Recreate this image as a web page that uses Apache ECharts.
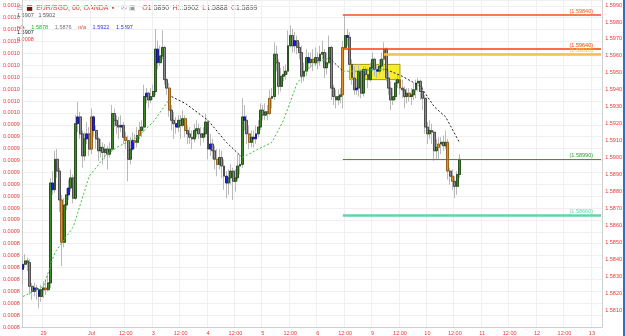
<!DOCTYPE html>
<html>
<head>
<meta charset="utf-8">
<script src="https://cdn.jsdelivr.net/npm/echarts/dist/echarts.min.js"></script>
<style>
  html, body { margin: 0; padding: 0; background: #fff; }
  #chart { width: 625px; height: 336px; }
</style>
</head>
<body>
<div id="chart"></div>
<script>
// hourly EUR/SGD candles, one per category slot (future slots stay empty)
const slotCount = 254;
const xLabelText = ['29', 'Jul', '12:00', '3', '12:00', '4', '12:00', '5', '12:00', '6', '12:00', '9', '12:00', '10', '12:00', '11', '12:00', '12', '12:00', '13'];
const xLabelIdx = [9, 30, 45, 57, 69, 81, 93, 105, 117, 129, 141, 153, 165, 177, 189, 201, 213, 225, 237, 249];

const opens = [
  1.5834, 1.5837, 1.5839, 1.5838, 1.5824, 1.5821, 1.5823, 1.5822, 1.5818, 1.5822,
  1.5823, 1.5822, 1.5826, 1.5885, 1.5881, 1.5899, 1.5892, 1.5875, 1.5850, 1.5872,
  1.5878, 1.5882, 1.5888, 1.5876, 1.5920, 1.5924, 1.5914, 1.5901, 1.5911, 1.5914,
  1.5905, 1.5924, 1.5916, 1.5911, 1.5904, 1.5906, 1.5903, 1.5905, 1.5902, 1.5905,
  1.5926, 1.5922, 1.5919, 1.5918, 1.5919, 1.5912, 1.5910, 1.5899, 1.5905, 1.5910,
  1.5909, 1.5913, 1.5916, 1.5918, 1.5936, 1.5938, 1.5934, 1.5936, 1.5939, 1.5964,
  1.5956, 1.5960, 1.5965, 1.5946, 1.5941, 1.5928, 1.5922, 1.5920, 1.5918, 1.5922,
  1.5919, 1.5923, 1.5916, 1.5914, 1.5912, 1.5911, 1.5916, 1.5917, 1.5914, 1.5912,
  1.5914, 1.5921, 1.5905, 1.5908, 1.5904, 1.5899, 1.5896, 1.5900, 1.5895, 1.5889,
  1.5885, 1.5888, 1.5892, 1.5886, 1.5888, 1.5895, 1.5896, 1.5924, 1.5922, 1.5914,
  1.5909, 1.5912, 1.5911, 1.5914, 1.5918, 1.5928, 1.5925, 1.5927, 1.5926, 1.5935,
  1.5936, 1.5961, 1.5956, 1.5942, 1.5948, 1.5949, 1.5951, 1.5966, 1.5972, 1.5966,
  1.5969, 1.5965, 1.5962, 1.5948, 1.5951, 1.5959, 1.5956, 1.5958, 1.5956, 1.5959,
  1.5957, 1.5961, 1.5962, 1.5953, 1.5956, 1.5965, 1.5941, 1.5936, 1.5934, 1.5936,
  1.5937, 1.5965, 1.5972, 1.5971, 1.5955, 1.5947, 1.5940, 1.5941, 1.5951, 1.5938,
  1.5952, 1.5949, 1.5946, 1.5953, 1.5958, 1.5952, 1.5951, 1.5954, 1.5958, 1.5964,
  1.5947, 1.5941, 1.5934, 1.5936, 1.5944, 1.5946, 1.5941, 1.5940, 1.5936, 1.5938,
  1.5936, 1.5937, 1.5940, 1.5944, 1.5945, 1.5939, 1.5935, 1.5918, 1.5914, 1.5916,
  1.5915, 1.5904, 1.5906, 1.5908, 1.5909, 1.5907, 1.5909, 1.5892, 1.5889, 1.5886,
  1.5883, 1.5890
];
const closes = [
  1.5837, 1.5839, 1.5838, 1.5824, 1.5821, 1.5823, 1.5822, 1.5818, 1.5822, 1.5823,
  1.5822, 1.5826, 1.5885, 1.5881, 1.5899, 1.5892, 1.5875, 1.5850, 1.5872, 1.5878,
  1.5882, 1.5888, 1.5876, 1.5920, 1.5924, 1.5914, 1.5901, 1.5911, 1.5914, 1.5905,
  1.5924, 1.5916, 1.5911, 1.5904, 1.5906, 1.5903, 1.5905, 1.5902, 1.5905, 1.5926,
  1.5922, 1.5919, 1.5918, 1.5919, 1.5912, 1.5910, 1.5899, 1.5905, 1.5910, 1.5909,
  1.5913, 1.5916, 1.5918, 1.5936, 1.5938, 1.5934, 1.5936, 1.5939, 1.5964, 1.5956,
  1.5960, 1.5965, 1.5946, 1.5941, 1.5928, 1.5922, 1.5920, 1.5918, 1.5922, 1.5919,
  1.5923, 1.5916, 1.5914, 1.5912, 1.5911, 1.5916, 1.5917, 1.5914, 1.5912, 1.5914,
  1.5921, 1.5905, 1.5908, 1.5904, 1.5899, 1.5896, 1.5900, 1.5895, 1.5889, 1.5885,
  1.5888, 1.5892, 1.5886, 1.5888, 1.5895, 1.5896, 1.5924, 1.5922, 1.5914, 1.5909,
  1.5912, 1.5911, 1.5914, 1.5918, 1.5928, 1.5925, 1.5927, 1.5926, 1.5935, 1.5936,
  1.5961, 1.5956, 1.5942, 1.5948, 1.5949, 1.5951, 1.5966, 1.5972, 1.5966, 1.5969,
  1.5965, 1.5962, 1.5948, 1.5951, 1.5959, 1.5956, 1.5958, 1.5956, 1.5959, 1.5957,
  1.5961, 1.5962, 1.5953, 1.5956, 1.5965, 1.5941, 1.5936, 1.5934, 1.5936, 1.5937,
  1.5965, 1.5972, 1.5971, 1.5955, 1.5947, 1.5940, 1.5941, 1.5951, 1.5938, 1.5952,
  1.5949, 1.5946, 1.5953, 1.5958, 1.5952, 1.5951, 1.5954, 1.5958, 1.5964, 1.5947,
  1.5941, 1.5934, 1.5936, 1.5944, 1.5946, 1.5941, 1.5940, 1.5936, 1.5938, 1.5936,
  1.5937, 1.5940, 1.5944, 1.5945, 1.5939, 1.5935, 1.5918, 1.5914, 1.5916, 1.5915,
  1.5904, 1.5906, 1.5908, 1.5909, 1.5907, 1.5909, 1.5892, 1.5889, 1.5886, 1.5883,
  1.5890, 1.5899
];
const highs = [
  1.5842, 1.5843, 1.5841, 1.5840, 1.5826, 1.5826, 1.5825, 1.5823, 1.5825, 1.5827,
  1.5828, 1.5831, 1.5888, 1.5892, 1.5904, 1.5905, 1.5894, 1.5878, 1.5876, 1.5882,
  1.5887, 1.5893, 1.5890, 1.5925, 1.5933, 1.5927, 1.5916, 1.5915, 1.5921, 1.5918,
  1.5929, 1.5925, 1.5919, 1.5912, 1.5911, 1.5909, 1.5908, 1.5907, 1.5909, 1.5931,
  1.5929, 1.5925, 1.5924, 1.5925, 1.5921, 1.5915, 1.5913, 1.5912, 1.5915, 1.5914,
  1.5918, 1.5921, 1.5922, 1.5943, 1.5941, 1.5939, 1.5941, 1.5943, 1.5976, 1.5969,
  1.5966, 1.5975, 1.5966, 1.5947, 1.5944, 1.5931, 1.5927, 1.5924, 1.5925, 1.5925,
  1.5928, 1.5925, 1.5919, 1.5918, 1.5916, 1.5920, 1.5922, 1.5920, 1.5918, 1.5918,
  1.5926, 1.5922, 1.5914, 1.5911, 1.5907, 1.5905, 1.5905, 1.5904, 1.5899, 1.5892,
  1.5893, 1.5896, 1.5894, 1.5893, 1.5902, 1.5902, 1.5935, 1.5931, 1.5925, 1.5919,
  1.5916, 1.5916, 1.5919, 1.5922, 1.5932, 1.5931, 1.5932, 1.5931, 1.5940, 1.5941,
  1.5968, 1.5966, 1.5958, 1.5953, 1.5954, 1.5955, 1.5975, 1.5978, 1.5976, 1.5974,
  1.5972, 1.5968, 1.5966, 1.5956, 1.5964, 1.5962, 1.5962, 1.5964, 1.5965, 1.5962,
  1.5966, 1.5969, 1.5964, 1.5962, 1.5972, 1.5966, 1.5943, 1.5940, 1.5940, 1.5941,
  1.5969, 1.5984, 1.5976, 1.5974, 1.5958, 1.5954, 1.5946, 1.5955, 1.5952, 1.5954,
  1.5954, 1.5953, 1.5956, 1.5962, 1.5959, 1.5955, 1.5958, 1.5962, 1.5968, 1.5965,
  1.5951, 1.5945, 1.5941, 1.5947, 1.5949, 1.5947, 1.5946, 1.5942, 1.5941, 1.5941,
  1.5941, 1.5944, 1.5946, 1.5947, 1.5946, 1.5942, 1.5937, 1.5921, 1.5922, 1.5920,
  1.5916, 1.5911, 1.5912, 1.5912, 1.5913, 1.5916, 1.5911, 1.5894, 1.5893, 1.5889,
  1.5892, 1.5902
];
const lows = [
  1.5825, 1.5835, 1.5833, 1.5819, 1.5816, 1.5818, 1.5816, 1.5811, 1.5815, 1.5817,
  1.5819, 1.5821, 1.5823, 1.5878, 1.5879, 1.5888, 1.5868, 1.5836, 1.5847, 1.5869,
  1.5875, 1.5880, 1.5873, 1.5875, 1.5915, 1.5911, 1.5894, 1.5898, 1.5908, 1.5901,
  1.5902, 1.5912, 1.5905, 1.5898, 1.5900, 1.5896, 1.5899, 1.5893, 1.5900, 1.5904,
  1.5918, 1.5914, 1.5911, 1.5915, 1.5908, 1.5905, 1.5886, 1.5896, 1.5904, 1.5905,
  1.5906, 1.5911, 1.5912, 1.5915, 1.5932, 1.5929, 1.5932, 1.5934, 1.5937, 1.5952,
  1.5954, 1.5958, 1.5943, 1.5937, 1.5924, 1.5916, 1.5911, 1.5914, 1.5915, 1.5911,
  1.5918, 1.5912, 1.5908, 1.5908, 1.5905, 1.5909, 1.5912, 1.5911, 1.5907, 1.5909,
  1.5912, 1.5899, 1.5901, 1.5899, 1.5893, 1.5889, 1.5893, 1.5888, 1.5881, 1.5876,
  1.5878, 1.5884, 1.5875, 1.5880, 1.5886, 1.5890, 1.5894, 1.5916, 1.5908, 1.5905,
  1.5906, 1.5906, 1.5908, 1.5912, 1.5916, 1.5922, 1.5922, 1.5922, 1.5925, 1.5929,
  1.5934, 1.5951, 1.5937, 1.5939, 1.5945, 1.5946, 1.5949, 1.5965, 1.5962, 1.5962,
  1.5961, 1.5958, 1.5944, 1.5945, 1.5948, 1.5952, 1.5953, 1.5951, 1.5954, 1.5952,
  1.5954, 1.5958, 1.5947, 1.5949, 1.5955, 1.5934, 1.5931, 1.5929, 1.5931, 1.5932,
  1.5929, 1.5964, 1.5966, 1.5952, 1.5943, 1.5937, 1.5937, 1.5936, 1.5935, 1.5936,
  1.5946, 1.5941, 1.5945, 1.5951, 1.5948, 1.5947, 1.5949, 1.5951, 1.5951, 1.5945,
  1.5937, 1.5928, 1.5931, 1.5934, 1.5941, 1.5937, 1.5935, 1.5929, 1.5932, 1.5933,
  1.5931, 1.5934, 1.5935, 1.5939, 1.5934, 1.5928, 1.5914, 1.5908, 1.5911, 1.5908,
  1.5898, 1.5899, 1.5899, 1.5902, 1.5904, 1.5905, 1.5887, 1.5884, 1.5881, 1.5876,
  1.5878, 1.5888
];
// bars painted blue / orange by the chart's bar-colour rule
const blueBars = [0, 5, 7, 13, 20, 24, 28, 31, 43, 48, 54, 59, 67, 82, 89, 97, 101, 102, 119, 125, 142, 146, 155];
const orangeBars = [10, 17, 30, 45, 49, 51, 64, 71, 85, 99, 108, 127, 140, 158, 165, 169, 182, 186, 188];

// moving average, read at a few bars; colour flips at the turns
const maIdx = [0, 9, 14, 22, 29, 36, 41, 50, 57, 65, 71, 81, 89, 96, 103, 109, 114, 120, 126, 134, 140, 147, 154, 159, 166, 174, 180, 185, 191];
const maVal = [1.5818, 1.5824, 1.5844, 1.5859, 1.5889, 1.5901, 1.5906, 1.5912, 1.5921, 1.5936, 1.5932, 1.5922, 1.5909, 1.5900, 1.5905, 1.5909, 1.5922, 1.5944, 1.5954, 1.5959, 1.5951, 1.5951, 1.5952, 1.5952, 1.5948, 1.5942, 1.5930, 1.5924, 1.5909];
const maTurns = [65, 96, 134, 140, 159];

// drawn horizontal levels
const levelValues = [1.5984, 1.5964, 1.5961, 1.5899, 1.5866];
const levelStart = [140, 140, 158, 140, 140];
const levelText = ['(1.59840)', '(1.59640)', '(1.59610)', '(1.58990)', '(1.58660)'];

// highlighted zone
const zoneFrom = [143, 1.5955];
const zoneTo = [165, 1.5946];

// price tags on the right scale
const tagValues = [1.5942, 1.5912, 1.5907, 1.5899, 1.5895];
const tagText = ['1.5942', '1.5912', '1.5907', '1.5899', '26:53'];
const indicatorLast = 0.00079;

const chart = echarts.init(document.getElementById('chart'));

const labelAt = {};
xLabelIdx.forEach((k, j) => { labelAt[k] = xLabelText[j]; });
const slots = [];
for (let i = 0; i < slotCount; i++) slots.push('h' + i);

const wickData = opens.map((o, i) => [o, closes[i], lows[i], highs[i]]);
const bodyData = opens.map((o, i) => {
  const c = closes[i];
  let fill = c >= o ? '#3b8a27' : '#8c8c8c';
  let edge = c >= o ? '#173d0d' : '#3a3a3a';
  if (blueBars.includes(i)) { fill = '#1c1cf2'; edge = '#0c0c7a'; }
  if (orangeBars.includes(i)) { fill = '#e8911e'; edge = '#8a5206'; }
  return {
    value: [o, c, Math.min(o, c), Math.max(o, c)],
    itemStyle: { color: fill, color0: fill, borderColor: edge, borderColor0: edge }
  };
});

// split the MA into coloured runs
const maRuns = [];
let run = [];
maIdx.forEach((k, j) => {
  run.push([k, maVal[j]]);
  if (maTurns.includes(k)) { maRuns.push(run); run = [[k, maVal[j]]]; }
});
maRuns.push(run);
const maSeries = maRuns.map((pts, r) => ({
  type: 'line', xAxisIndex: 0, yAxisIndex: 1, data: pts, z: 5,
  symbol: 'none', silent: true,
  lineStyle: { width: 1, type: [2, 2], color: r % 2 === 0 ? '#3cc23c' : '#222' }
}));

const levelColors = ['#f4511e', '#ff3d00', '#f2c14e', '#2ca02c', '#5fd6a8'];
const levelWidths = [1.5, 1.5, 2.5, 1, 2.5];

const tiny = 'Liberation Sans, Arial, sans-serif';

chart.setOption({
  animation: false,
  textStyle: { fontFamily: tiny },
  grid: { left: 15, right: 17, top: 0, bottom: 8 },
  xAxis: {
    type: 'category', data: slots, boundaryGap: true,
    axisLine: { lineStyle: { color: '#cfcfcf' } },
    axisTick: { show: false },
    axisLabel: {
      interval: (i) => i in labelAt,
      formatter: (v, i) => labelAt[i] || '',
      color: '#e53935', fontSize: 5.5, margin: 3
    },
    splitLine: { show: true, interval: (i) => i in labelAt, lineStyle: { color: '#f0f0f0' } }
  },
  yAxis: [
    {
      type: 'value', position: 'left', min: 0.00078, max: 0.0010549, interval: 0.00001,
      axisLine: { show: true, lineStyle: { color: '#cfcfcf' } },
      axisTick: { show: false },
      axisLabel: { color: '#e53935', fontSize: 5.5, margin: 2, showMaxLabel: false, formatter: (v) => v.toFixed(4) },
      splitLine: { show: true, lineStyle: { color: '#efefef' } }
    },
    {
      type: 'value', position: 'right', min: 1.58, max: 1.5993, interval: 0.001,
      axisLine: { show: true, lineStyle: { color: '#cfcfcf' } },
      axisTick: { show: false },
      axisLabel: { color: '#e53935', fontSize: 5.5, margin: 3, showMaxLabel: false, showMinLabel: false, formatter: (v) => v.toFixed(4) },
      splitLine: { show: false }
    }
  ],
  series: [
    {
      type: 'line', yAxisIndex: 1, data: [], z: 1, silent: true,
      markArea: {
        silent: true,
        itemStyle: { color: '#f6ee2c', borderColor: '#a99a00', borderWidth: 1 },
        data: [[{ coord: zoneFrom }, { coord: zoneTo }]]
      }
    },
    {
      type: 'candlestick', yAxisIndex: 1, data: wickData, z: 3, barWidth: 2.4, silent: true,
      itemStyle: { color: 'transparent', color0: 'transparent', borderColor: '#b9b9b9', borderColor0: '#b9b9b9', borderWidth: 1 }
    },
    {
      type: 'candlestick', yAxisIndex: 1, data: bodyData, z: 4, barWidth: 2.4, silent: true,
      itemStyle: { borderWidth: 0.8 }
    },
    ...maSeries,
    {
      type: 'line', yAxisIndex: 1, data: [], z: 6, silent: true,
      markLine: {
        silent: true, symbol: 'none',
        data: levelValues.map((v, k) => [
          {
            coord: [levelStart[k], v],
            lineStyle: { color: levelColors[k], width: levelWidths[k], type: 'solid' },
            label: { show: true, position: 'insideEndTop', formatter: levelText[k], color: levelColors[k], fontSize: 5.5, distance: [8, 1] }
          },
          { coord: [slotCount - 1, v] }
        ])
      }
    },
    {
      type: 'line', yAxisIndex: 1, data: [], z: 7, silent: true,
      markLine: {
        silent: true, symbol: 'none',
        lineStyle: { opacity: 0 },
        data: tagValues.map((v, k) => ({
          yAxis: v,
          label: {
            show: true, position: 'end', distance: 2, formatter: tagText[k],
            color: '#fff', fontSize: 5.5, padding: [1, 2, 0, 2],
            backgroundColor: k === 0 ? '#8a8a8a' : '#111'
          }
        }))
      }
    },
    {
      type: 'line', yAxisIndex: 0, data: [], z: 7, silent: true,
      markLine: {
        silent: true, symbol: 'none',
        lineStyle: { opacity: 0 },
        data: [{
          yAxis: indicatorLast,
          label: {
            show: true, position: 'start', distance: 1, formatter: indicatorLast.toFixed(4),
            color: '#fff', fontSize: 5.5, padding: [1, 1, 0, 1], backgroundColor: '#f01c1c'
          }
        }]
      }
    }
  ],
  graphic: [
    {
      type: 'text', x: 17, y: 2, silent: true,
      style: {
        text: '{g|⊟} {k|■} {r|EUR/SGD, 60, OANDA} {r|▪}  {g|✉ ▣}  {r|O}{n|1.5890} {r|H}{n|1.5902} {r|L}{n|1.5888} {r|C}{n|1.5899}',
        rich: {
          g: { fill: '#9a9a9a', fontSize: 7, fontFamily: 'DejaVu Sans' },
          k: { fill: '#7a1010', fontSize: 7, fontFamily: 'DejaVu Sans' },
          r: { fill: '#e53935', fontSize: 7, fontFamily: tiny },
          n: { fill: '#555', fontSize: 7, fontFamily: tiny }
        }
      }
    },
    {
      type: 'text', x: 17, y: 12, silent: true,
      style: { text: '1.5907   1.5902', fill: '#555', fontSize: 5.5, fontFamily: tiny }
    },
    {
      type: 'text', x: 17, y: 21, silent: true,
      style: {
        text: '{r|n/a}  {gr|1.5878}  {n|1.5876}  {r|n/a}  {b|1.5922}  {b|1.5897}',
        rich: {
          r: { fill: '#e53935', fontSize: 5.5, fontFamily: tiny },
          gr: { fill: '#1fb51f', fontSize: 5.5, fontFamily: tiny },
          n: { fill: '#777', fontSize: 5.5, fontFamily: tiny },
          b: { fill: '#3030e0', fontSize: 5.5, fontFamily: tiny }
        }
      }
    },
    {
      type: 'text', x: 17, y: 29, silent: true,
      style: { text: '1.5907', fill: '#222', fontSize: 5.5, fontFamily: tiny }
    },
    {
      type: 'text', x: 17, y: 36, silent: true,
      style: { text: '0.0008', fill: '#e53935', fontSize: 5.5, fontFamily: tiny }
    },
    {
      type: 'line', silent: true,
      shape: { x1: 624, y1: 0, x2: 624, y2: 336 },
      style: { stroke: '#2f72bd', lineWidth: 2 }
    }
  ]
});
</script>
</body>
</html>
